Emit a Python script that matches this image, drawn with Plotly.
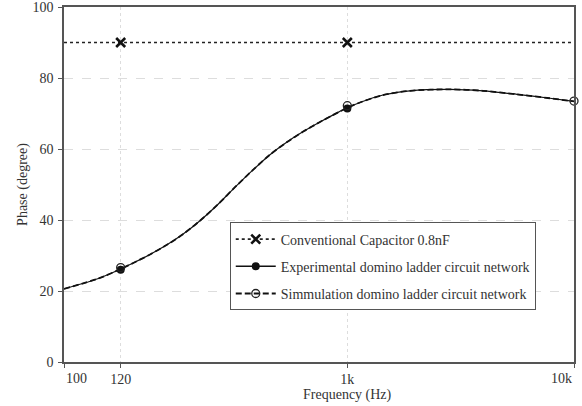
import numpy as np
import plotly.graph_objects as go

# ---------------- data ----------------
tick_freq = [100, 120, 1000, 10000]
tick_text = ["100", "120", "1k", "10k"]

curve_freq = [100, 112, 120, 135, 158, 185, 216, 252, 295, 355, 415, 485, 567, 662, 774, 905,
              1000, 1137, 1436, 1889, 2836, 3965, 5601, 7830, 10000]
curve_phase = [20.6, 23.6, 26.2, 27.9, 30.3, 33.0, 36.1, 39.8, 44.1, 49.7, 54.2, 58.4, 61.9, 64.9,
               67.6, 70.1, 71.6, 73.1, 75.2, 76.4, 76.8, 76.4, 75.4, 74.3, 73.4]

conv_freq = [100, 120, 1000, 10000]
conv_phase = [90, 90, 90, 90]
conv_mark_freq = [120, 1000]
conv_mark_phase = [90, 90]

exp_mark_freq = [120, 1000]
exp_mark_phase = [26.0, 71.4]

sim_mark_freq = [120, 1000, 10000]
sim_mark_phase = [26.6, 72.2, 73.5]

names = ["Conventional Capacitor 0.8nF",
         "Experimental domino ladder circuit network",
         "Simmulation domino ladder circuit network"]

# ---------------- axis scale (piecewise log, as in the reference) ----------------
_anchor_pos = [0.0, 0.25, 1.25, 2.25]


def xpos(f):
    return np.interp(np.log10(np.asarray(f, dtype=float)), np.log10(tick_freq), _anchor_pos)


FONT = "Liberation Serif"
TXT = "#333333"
AX = "#555555"

conv_line = dict(color="#222", width=1.6, dash="dot")
conv_marker = dict(symbol="x-thin-open", size=9, color="#111", line=dict(color="#111", width=2.6))
exp_line = dict(color="#111", width=1.2)
exp_marker = dict(symbol="circle", size=8, color="#111")
sim_line = dict(color="#111", width=1.8, dash="6px,3px")
sim_marker = dict(symbol="circle-open", size=8, color="#222", line=dict(color="#222", width=1.3))

fig = go.Figure()

fig.add_trace(go.Scatter(x=xpos(conv_freq), y=conv_phase, mode="lines", line=conv_line,
                         showlegend=False, hoverinfo="skip"))
fig.add_trace(go.Scatter(x=xpos(conv_mark_freq), y=conv_mark_phase, mode="markers",
                         marker=conv_marker, showlegend=False))
fig.add_trace(go.Scatter(x=xpos(curve_freq), y=curve_phase, mode="lines",
                         line=dict(**exp_line, shape="spline", smoothing=0.8),
                         showlegend=False, hoverinfo="skip"))
fig.add_trace(go.Scatter(x=xpos(curve_freq), y=curve_phase, mode="lines",
                         line=dict(**sim_line, shape="spline", smoothing=0.8),
                         showlegend=False, hoverinfo="skip"))
fig.add_trace(go.Scatter(x=xpos(exp_mark_freq), y=exp_mark_phase, mode="markers",
                         marker=exp_marker, showlegend=False))
fig.add_trace(go.Scatter(x=xpos(sim_mark_freq), y=sim_mark_phase, mode="markers",
                         marker=sim_marker, showlegend=False, cliponaxis=False))

# legend entries
fig.add_trace(go.Scatter(x=[None], y=[None], mode="lines+markers", name=names[0], legendgroup="a",
                         line=conv_line, marker=conv_marker))
fig.add_trace(go.Scatter(x=[None], y=[None], mode="lines+markers", name=names[1], legendgroup="b",
                         line=dict(color="#111", width=1.6), marker=exp_marker))
fig.add_trace(go.Scatter(x=[None], y=[None], mode="lines+markers", name=names[2], legendgroup="c",
                         line=sim_line, marker=sim_marker))

tick_font = dict(family=FONT, size=14, color=TXT)
xt = list(xpos(tick_freq))

fig.update_layout(
    width=582, height=406,
    margin=dict(l=64, r=8, t=7, b=44),
    paper_bgcolor="white", plot_bgcolor="white",
    font=dict(family=FONT, size=14, color=TXT),
    legend=dict(x=0.325, y=0.393, xanchor="left", yanchor="top",
                bgcolor="white", bordercolor=AX, borderwidth=1,
                font=dict(family=FONT, size=14, color=TXT),
                traceorder="grouped", tracegroupgap=6, itemwidth=40),
    xaxis=dict(range=[0, 2.25], tickvals=xt, ticktext=["", tick_text[1], tick_text[2], ""],
               showline=True, linecolor=AX, linewidth=1.5, mirror=True,
               ticks="outside", ticklen=4, tickcolor=AX, ticklabelstandoff=-1,
               showgrid=True, gridcolor="#dddddd", griddash="dot", gridwidth=1,
               zeroline=False, tickfont=tick_font, automargin=False),
    yaxis=dict(range=[0, 100], tickvals=[0, 20, 40, 60, 80, 100],
               showline=True, linecolor=AX, linewidth=1.5, mirror=True,
               ticks="outside", ticklen=4, tickcolor=AX, ticklabelstandoff=2,
               ticklabeloverflow="allow",
               showgrid=True, gridcolor="#dddddd", griddash="dash", gridwidth=1,
               zeroline=False, tickfont=tick_font, automargin=False,
               title=dict(text="Phase (degree)", font=dict(size=14), standoff=2)),
    annotations=[
        dict(x=xt[0], y=0, xref="x", yref="paper", yshift=-16, xanchor="left", yanchor="middle",
             text=tick_text[0], showarrow=False, font=tick_font),
        dict(x=xt[3], y=0, xref="x", yref="paper", yshift=-16, xanchor="right", yanchor="middle",
             text=tick_text[3], showarrow=False, font=tick_font),
        dict(x=xt[2], y=0, xref="x", yref="paper", yshift=-33, yanchor="middle",
             text="Frequency (Hz)", showarrow=False, font=dict(family=FONT, size=14, color=TXT)),
    ],
)

fig.write_html("out.html", config={"displayModeBar": False},
               post_script="document.body.style.margin='0';")
